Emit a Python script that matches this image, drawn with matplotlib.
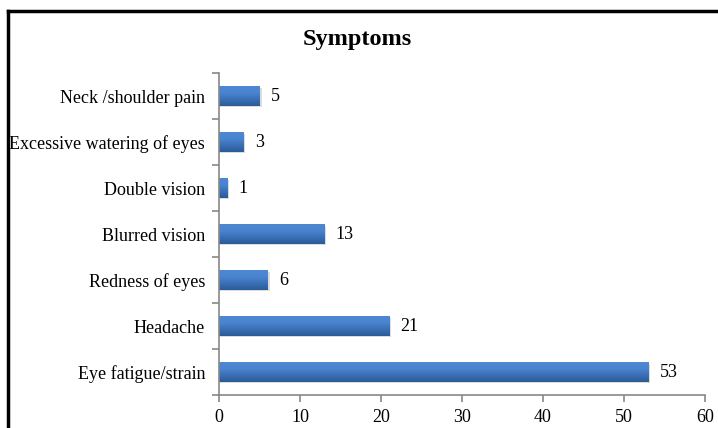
import numpy as np
import matplotlib.pyplot as plt
from matplotlib.lines import Line2D
from matplotlib.colors import LinearSegmentedColormap

symptoms = ['Eye fatigue/strain', 'Headache', 'Redness of eyes', 'Blurred vision',
            'Double vision', 'Excessive watering of eyes', 'Neck /shoulder pain']
counts = [53, 21, 6, 13, 1, 3, 5]
xticks = [0, 10, 20, 30, 40, 50, 60]

plt.rcParams['font.family'] = ['Liberation Serif', 'DejaVu Serif']

fig = plt.figure(figsize=(7.18, 4.28), dpi=100)
ax = fig.add_axes([0.305, 0.077, 0.677, 0.752])

y = np.arange(len(symptoms))
bars = ax.barh(y, counts, height=0.42, color='none', edgecolor='none')

# vertical gradient on each bar, light on top, dark at the bottom
grad = LinearSegmentedColormap.from_list('g', ['#2c5b97', '#3a6fb5', '#4a84cf', '#4f88d2'])
shade = np.linspace(0, 1, 64).reshape(-1, 1)
for b in bars:
    x0, y0 = b.get_x(), b.get_y()
    w, h = b.get_width(), b.get_height()
    # soft shadow
    ax.add_patch(plt.Rectangle((x0, y0 - 0.03), w + 0.25, h, color='#bbbbbb',
                               alpha=0.5, lw=0, zorder=1))
    ax.imshow(shade, extent=(x0, x0 + w, y0, y0 + h), origin='lower', cmap=grad,
              aspect='auto', zorder=2)

for yi, c in zip(y, counts):
    ax.text(c + 1.4, yi, str(c), va='center', ha='left', fontsize=13)

ax.set_xlim(0, 60)
ax.set_ylim(-0.5, len(symptoms) - 0.5)
ax.set_xticks(xticks)
ax.set_yticks(y)
ax.set_yticklabels(symptoms)
ax.set_yticks(np.arange(-0.5, len(symptoms), 1), minor=True)
ax.tick_params(axis='y', which='major', length=0, pad=10, labelsize=13)
ax.tick_params(axis='y', which='minor', length=5, color='#888888', width=1.2)
ax.tick_params(axis='x', length=5, color='#888888', width=1.2, labelsize=13, pad=5)
for s in ['top', 'right']:
    ax.spines[s].set_visible(False)
for s in ['left', 'bottom']:
    ax.spines[s].set_color('#888888')
    ax.spines[s].set_linewidth(1.2)

fig.text(0.497, 0.907, 'Symptoms', ha='center', va='center', fontsize=17.5,
         fontweight='bold')

# outer frame (only top and left edges visible)
fig.add_artist(Line2D([0.011, 1.0], [0.974, 0.974], transform=fig.transFigure,
                      color='black', lw=2.5))
fig.add_artist(Line2D([0.011, 0.011], [0.0, 0.974], transform=fig.transFigure,
                      color='black', lw=2.5))

fig.savefig('out.png', dpi=100)
